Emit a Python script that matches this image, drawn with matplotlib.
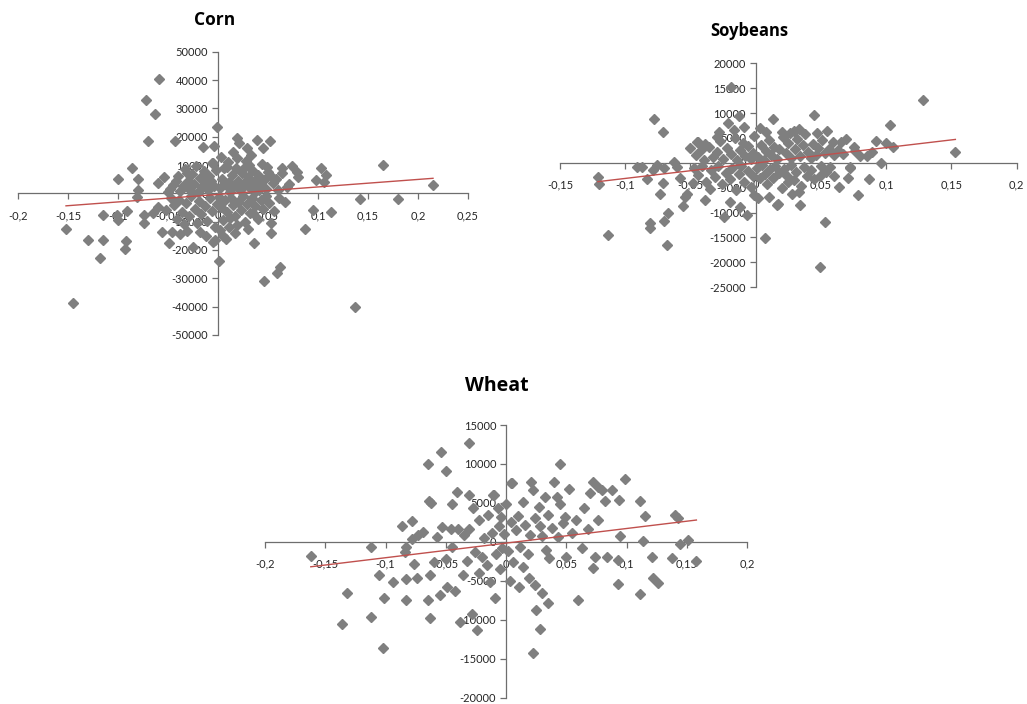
import numpy as np
import matplotlib
matplotlib.use("Agg")
import matplotlib.pyplot as plt
from matplotlib.ticker import FuncFormatter

# ============================================================
# DATA
# ============================================================

corn_x = [
    -0.059, -0.072, -0.063, -0.070, -0.043, -0.001, -0.015, -0.004, -0.086, -0.100,
    -0.080, -0.054, -0.060, -0.080, -0.006,
    -0.152, -0.130, -0.115, -0.118, -0.092, -0.093, -0.145, -0.115, -0.101, -0.100,
    -0.091, -0.081, -0.074, -0.074, -0.065, -0.056, -0.049, -0.046, -0.031, -0.018,
    -0.025, -0.005, 0.001, -0.060,
    0.215, 0.142, 0.180, 0.113, 0.095, 0.087, 0.053, 0.053, 0.036, 0.062,
    0.059, 0.046, 0.137, 0.017, 0.019, 0.005, -0.003, 0.012, 0.035, 0.067,
    0.165, 0.103, 0.108, 0.098, 0.106, 0.074, 0.079, 0.080, 0.064, 0.064,
    0.052, 0.039, 0.045, 0.029, 0.019, 0.021, -0.005, 0.019, 0.031, 0.027,
    0.009, 0.049, 0.052, 0.071, 0.069,
    -0.048, -0.045, -0.040, -0.038, -0.035, -0.033, -0.030, -0.028, -0.026, -0.024,
    -0.022, -0.020, -0.018, -0.016, -0.014, -0.012, -0.010, -0.009, -0.007, -0.004,
    -0.002, -0.050, -0.042, -0.031,
    -0.047, -0.044, -0.041, -0.039, -0.036, -0.034, -0.032, -0.029, -0.027, -0.023,
    -0.021, -0.019, -0.017, -0.013, -0.011, -0.008, -0.006, -0.003, -0.001, -0.052,
    -0.038, -0.012,
    0.002, 0.004, 0.006, 0.008, 0.010, 0.012, 0.014, 0.016, 0.018, 0.020,
    0.022, 0.024, 0.026, 0.028, 0.030, 0.032, 0.034, 0.036, 0.038, 0.040,
    0.042, 0.044, 0.046, 0.048, 0.050, 0.055, 0.058, 0.060, 0.003, 0.015,
    0.033, 0.011, 0.025, 0.041,
    0.001, 0.003, 0.005, 0.007, 0.009, 0.011, 0.013, 0.015, 0.017, 0.020,
    0.023, 0.025, 0.027, 0.029, 0.032, 0.034, 0.037, 0.040, 0.043, 0.045,
    0.048, 0.051, 0.056, 0.061, 0.002, 0.008, 0.030,
]
corn_y = [
    40300, 33000, 28000, 18500, 18600, 23300, 16500, 16800, 8800, 5000,
    5000, 5900, 3700, 1200, 10600,
    -12600, -16600, -16600, -23000, -16800, -19800, -38600, -7700, -7700, -9400,
    -6100, -1400, -7700, -10400, -7100, -13600, -17400, -13600, -13200, -13800,
    -18800, -17100, -23800, -4700,
    2900, -2000, -2000, -6500, -5900, -12700, -10600, -14100, -17400, -26100,
    -28200, -31000, -40000, -13900, -11200, -15100, -16500, -8800, -7100, -3000,
    10000, 8800, 6500, 4700, 4100, 9600, 7400, 5600, 8800, 7100,
    18600, 19000, 16100, 16100, 19600, 17900, 10800, 12400, 10000, 9400,
    9400, 9400, 6500, 3300, 2300,
    1500, 3000, 6000, 800, 2500, 8500, 4500, 1200, 6800, 3200,
    9500, 500, 5500, 2200, 7800, 3800, 1000, 6200, 4200, 2600,
    8200, 500, 4200, 7000,
    -1500, -4000, -9000, -2500, -6500, -11000, -3500, -8000, -1000, -5500,
    -10500, -2800, -7200, -4500, -9800, -1800, -6200, -12000, -3800, -6000,
    -14500, -15000,
    1800, 5200, 8800, 3000, 11000, 600, 6500, 2500, 9000, 4200,
    1200, 7300, 3500, 11500, 5800, 1800, 8200, 4000, 700, 6300,
    2800, 10500, 4800, 1500, 7500, 3600, 5200, 1300, 13000, 14500,
    13500, 4000, 2200, 1000,
    -1200, -4800, -9500, -2500, -6500, -11800, -1800, -4200, -8000, -3000,
    -5800, -1000, -10000, -3800, -6800, -1500, -4500, -9000, -2200, -5600,
    -800, -3500, -6200, -1800, -13000, -16000, -12500,
]

soy_x = [
    -0.019, -0.078, -0.071, -0.021, -0.013, 0.003, -0.001, 0.013, -0.030, -0.045,
    -0.050, -0.039, -0.063, -0.060, -0.091, -0.076,
    -0.121, -0.120, -0.113, -0.087, -0.083, -0.079, -0.071, -0.073, -0.070, -0.081,
    -0.081, -0.070, -0.067, -0.068, -0.056, -0.054, -0.053, -0.048, -0.035, -0.024,
    -0.007, -0.001, 0.007, 0.017,
    0.153, 0.096, 0.087, 0.078, 0.071, 0.064, 0.049, 0.053, 0.049, 0.034,
    0.016, 0.035, 0.025, 0.057, 0.072, 0.002,
    0.128, 0.103, 0.105, 0.100, 0.092, 0.045, 0.055, 0.047, 0.029, 0.020,
    0.069, 0.065, 0.059, 0.075, 0.080, 0.085, 0.072,
    -0.046, -0.042, -0.040, -0.036, -0.033, -0.030, -0.027, -0.025, -0.022, -0.019,
    -0.016, -0.014, -0.012, -0.010, -0.008, -0.006, -0.004, -0.002, -0.028, -0.017,
    -0.009, -0.044,
    -0.047, -0.044, -0.041, -0.038, -0.034, -0.031, -0.029, -0.026, -0.023, -0.020,
    -0.018, -0.015, -0.013, -0.011, -0.009, -0.006, -0.004, -0.002, -0.039, -0.020,
    -0.012, -0.058,
    0.002, 0.004, 0.006, 0.008, 0.010, 0.012, 0.014, 0.016, 0.018, 0.021,
    0.023, 0.025, 0.027, 0.030, 0.032, 0.034, 0.036, 0.038, 0.040, 0.042,
    0.044, 0.046, 0.048, 0.051, 0.053, 0.056, 0.060, 0.063, 0.067, 0.076,
    0.089, 0.008, 0.033, 0.026,
    0.001, 0.003, 0.005, 0.007, 0.009, 0.011, 0.013, 0.015, 0.018, 0.020,
    0.022, 0.024, 0.027, 0.029, 0.031, 0.033, 0.037, 0.039, 0.042, 0.045,
    0.050, 0.054, 0.060, 0.010, 0.028,
]
soy_y = [
    15200, 8900, 6200, 8000, 9400, 6900, 5400, 8900, 5100, 4200,
    2900, 3800, 200, -900, -800, -500,
    -2800, -4300, -14500, -900, -3300, -1500, -4000, -6300, -1100, -12100,
    -13200, -11700, -10200, -16500, -8700, -6800, -6200, -4100, -5300, -10900,
    -10500, -6500, -15100, -8300,
    2200, 0, -3300, -6500, -3100, -4900, -2700, -11900, -21000, -8500,
    -8400, -4700, -3800, -800, -1100, -7000,
    12700, 7600, 3100, 3900, 4400, 9600, 6400, 5900, 6400, 6200,
    4700, 4200, 4200, 3200, 1300, 1300, -900,
    1500, 2500, 600, 3200, 1200, 2200, 4300, 800, 3000, 1800,
    5000, 500, 2600, 4000, 1400, 3300, 700, 2000, 6200, 6500,
    7200, 4200,
    -1000, -2500, -600, -3800, -1500, -2800, -700, -4200, -2000, -3300,
    -1000, -5500, -2300, -700, -3800, -1600, -4800, -2600, -7500, -7800,
    -8800, -3000,
    1200, 3600, 600, 2400, 4600, 1500, 3200, 800, 2800, 5200,
    1900, 3900, 900, 2700, 4800, 1400, 3500, 5800, 2100, 900,
    3800, 1600, 2900, 4600, 1900, 2800, 1500, 2500, 1700, 2300,
    2100, 6200, 6800, 5900,
    -1000, -3000, -500, -2200, -4200, -1300, -3100, -600, -2000, -5000,
    -1200, -2700, -400, -3500, -1800, -5800, -900, -2600, -1400, -3300,
    -600, -1900, -2600, -6800, -6200,
]

wheat_x = [
    -0.031, -0.054, -0.065, -0.050, -0.064, -0.062, -0.041, -0.045, -0.031, -0.010,
    -0.027, -0.086, -0.078, -0.069, -0.073, -0.078, -0.053, -0.046, -0.040, -0.031,
    -0.022, -0.004, 0.005, 0.000, -0.112, -0.083,
    -0.162, -0.132, -0.136, -0.112, -0.102, -0.101, -0.105, -0.094, -0.083, -0.083,
    -0.074, -0.063, -0.065, -0.055, -0.063, -0.049, -0.042, -0.036, -0.028, -0.024,
    -0.038, -0.009, -0.013, -0.022, -0.076, -0.060, -0.084,
    0.022, 0.028, 0.025, 0.035, 0.030, 0.024, 0.019, 0.011, 0.060, 0.093,
    0.111, 0.122, 0.126, 0.158, 0.138, 0.121, 0.114, 0.144, 0.151, 0.093,
    0.072, 0.074, 0.084, 0.095, 0.050, 0.036, 0.014,
    0.045, 0.099, 0.004, 0.021, 0.022, 0.040, 0.052, 0.042, 0.045, 0.072,
    0.076, 0.080, 0.088, 0.082, 0.094, 0.070, 0.111, 0.115, 0.140, 0.143,
    0.065, 0.076, 0.027, 0.014, -0.011, 0.035, 0.049, 0.028,
    -0.018, -0.015, -0.012, -0.008, -0.006, -0.003, -0.020, -0.016, -0.005, -0.002,
    0.002, 0.004, 0.006, 0.008, 0.010, 0.012, 0.016, 0.018, 0.020, 0.024,
    0.030, 0.033, 0.038, 0.043, 0.047, 0.055, 0.058, 0.063, 0.068, -0.035,
    -0.026, -0.045, -0.050, -0.057, -0.032, 0.003, 0.032, -0.007,
]
wheat_y = [
    12700, 11500, 10000, 9100, 5300, 5000, 6400, 4900, 6000, 6000,
    4300, 2100, 2700, 1300, 900, 400, 1900, 1700, 1700, 1700,
    2800, 3200, 7500, 4900, -700, -700,
    -1800, -6600, -10600, -9600, -13600, -7200, -4300, -5200, -7500, -4800,
    -4700, -4300, -7500, -6800, -9800, -5800, -6300, -4300, -9200, -11300,
    -10300, -7200, -5200, -4000, -2800, -2600, -1300,
    -14200, -11200, -8700, -7800, -6600, -5500, -4700, -5800, -7500, -5400,
    -6700, -4700, -5300, -2400, -2100, -1900, 100, -300, 300, -2300,
    -3300, -2000, -1900, 800, -1900, -2100, -3200,
    10000, 8100, 7600, 7700, 6700, 7700, 6800, 5700, 4900, 7700,
    7100, 6600, 6700, 5300, 5400, 6300, 5300, 3300, 3400, 3100,
    4300, 2800, 4500, 5100, 6000, 3400, 3200, 2100,
    500, 3500, 1200, -1500, 2000, -800, -2000, -3000, -3500, 1000,
    -1200, 2500, -2600, 1500, 3300, -600, 2200, -1500, 900, 3000,
    800, -1000, 1800, 600, 2400, 1200, 2800, -800, 1600, 900,
    -1300, -600, -2200, 600, -2500, -5000, 5800, 4300,
]

# Excel linear trendlines: slope, intercept
corn_trend = (26500, -400)
soy_trend = (31000, -50)
wheat_trend = (18750, -160)

corn_xticks = np.arange(-0.2, 0.26, 0.05)
corn_yticks = np.arange(-50000, 50001, 10000)
soy_xticks = np.arange(-0.15, 0.21, 0.05)
soy_yticks = np.arange(-25000, 20001, 5000)
wheat_xticks = np.arange(-0.2, 0.21, 0.05)
wheat_yticks = np.arange(-20000, 15001, 5000)

# ============================================================
# FIGURE
# ============================================================

plt.rcParams['font.family'] = ['Lato', 'DejaVu Sans']

GREY = '#7f7f7f'
AXIS = '#6e6e6e'
RED = '#c0504d'


def comma_fmt(v, pos):
    if abs(v) < 1e-9:
        return "0"
    s = ("%.2f" % v).rstrip('0').rstrip('.')
    return s.replace('.', ',')


def int_fmt(v, pos):
    return "%d" % round(v)


def panel(rect, xs, ys, trend, xticks, yticks, title, title_xy, title_size):
    ax = fig.add_axes(rect)
    ax.set_xlim(xticks[0], xticks[-1])
    ax.set_ylim(yticks[0], yticks[-1])
    ax.plot(xs, ys, linestyle='none', marker='D', ms=5.0,
            color=GREY, mec=GREY, clip_on=False, zorder=3)
    xl = np.array([min(xs), max(xs)])
    ax.plot(xl, trend[0] * xl + trend[1], color=RED, lw=1.0, zorder=4)

    for side in ['top', 'right']:
        ax.spines[side].set_visible(False)
    ax.spines['left'].set_position(('data', 0))
    ax.spines['bottom'].set_position(('data', 0))
    for side in ['left', 'bottom']:
        ax.spines[side].set_color(AXIS)
        ax.spines[side].set_linewidth(0.9)
        ax.spines[side].set_zorder(2)

    ax.set_xticks(xticks)
    ax.set_yticks(yticks)
    ax.xaxis.set_major_formatter(FuncFormatter(comma_fmt))
    ax.yaxis.set_major_formatter(FuncFormatter(int_fmt))
    ax.tick_params(axis='both', direction='out', length=4, width=0.9,
                   color=AXIS, labelsize=8, labelcolor='#262626', pad=3)
    ax.tick_params(axis='x', pad=8)
    ax.patch.set_alpha(0)

    fig.text(title_xy[0] / 1027, 1 - title_xy[1] / 704, title,
             ha='center', va='center', fontsize=title_size, fontweight='bold',
             family=['Open Sans', 'DejaVu Sans'])
    return ax


fig = plt.figure(figsize=(10.27, 7.04), dpi=100)

panel([18 / 1027, 1 - 334.8 / 704, 450 / 1027, 283 / 704],
      corn_x, corn_y, corn_trend, corn_xticks, corn_yticks,
      "Corn", (215, 20), 12.5)

panel([560 / 1027, 1 - 287.1 / 704, 456.7 / 1027, 223.8 / 704],
      soy_x, soy_y, soy_trend, soy_xticks, soy_yticks,
      "Soybeans", (749, 31), 12)

panel([265 / 1027, 1 - 697.7 / 704, 482 / 1027, 272.7 / 704],
      wheat_x, wheat_y, wheat_trend, wheat_xticks, wheat_yticks,
      "Wheat", (497, 386), 14)

# ============================================================
# EXPORT
# ============================================================

plt.savefig("out.png", dpi=100)
